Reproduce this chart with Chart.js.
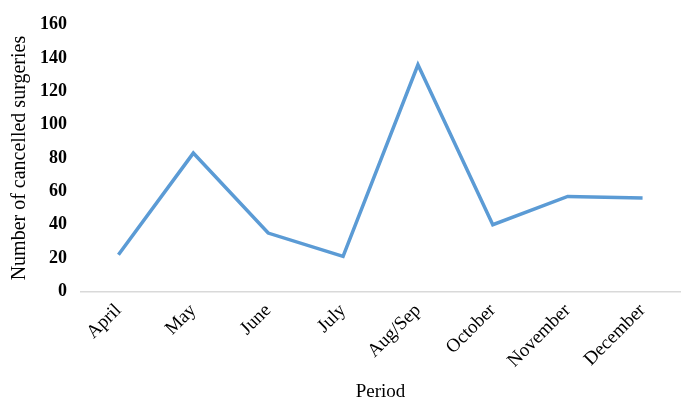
<!DOCTYPE html>
<html>
<head>
<meta charset="utf-8">
<script src="https://cdn.jsdelivr.net/npm/chart.js@4/dist/chart.umd.min.js"></script>
<style>
  html, body { margin: 0; padding: 0; background: #fff; }
  #wrap { width: 688px; height: 403px; }
</style>
</head>
<body>
<div id="wrap"><canvas id="myChart" width="688" height="403"></canvas></div>
<script>
const periods = ['April', 'May', 'June', 'July', 'Aug/Sep', 'October', 'November', 'December'];
const cancelled = [22, 83, 35, 21, 136, 40, 57, 56];
const yTicks = [0, 20, 40, 60, 80, 100, 120, 140, 160];

const serif = '"Liberation Serif", "Times New Roman", serif';

const ctx = document.getElementById('myChart').getContext('2d');
new Chart(ctx, {
    type: 'line',
    data: {
        labels: periods,
        datasets: [{
            label: 'Number of cancelled surgeries',
            data: cancelled,
            borderColor: '#5B9BD5',
            borderWidth: 3.5,
            pointRadius: 0,
            tension: 0,
            fill: false
        }]
    },
    options: {
        responsive: false,
        animation: false,
        layout: { padding: { top: 12, right: 8, left: 6, bottom: 0 } },
        plugins: { legend: { display: false }, tooltip: { enabled: false } },
        scales: {
            x: {
                offset: true,
                grid: { display: false, drawTicks: false },
                border: { color: '#d9d9d9', width: 1.5 },
                ticks: {
                    color: '#000',
                    font: { family: serif, size: 19 },
                    maxRotation: 45,
                    minRotation: 45,
                    padding: 8
                },
                title: {
                    display: true,
                    text: 'Period',
                    color: '#000',
                    font: { family: serif, size: 19 },
                    padding: { top: 0, bottom: 0 }
                }
            },
            y: {
                min: 0,
                max: 160,
                afterBuildTicks: axis => { axis.ticks = yTicks.map(v => ({ value: v })); },
                // tighter than chart.js default (it doubles the tick padding)
                afterFit: axis => { axis.width = 75; },
                grid: { display: false, drawTicks: false },
                border: { display: false },
                ticks: {
                    color: '#000',
                    font: { family: serif, size: 18, weight: 'bold' },
                    padding: 14
                },
                title: {
                    display: true,
                    text: 'Number of cancelled surgeries',
                    color: '#000',
                    font: { family: serif, size: 20 },
                    padding: { top: 2, bottom: 0 }
                }
            }
        }
    }
});
</script>
</body>
</html>
